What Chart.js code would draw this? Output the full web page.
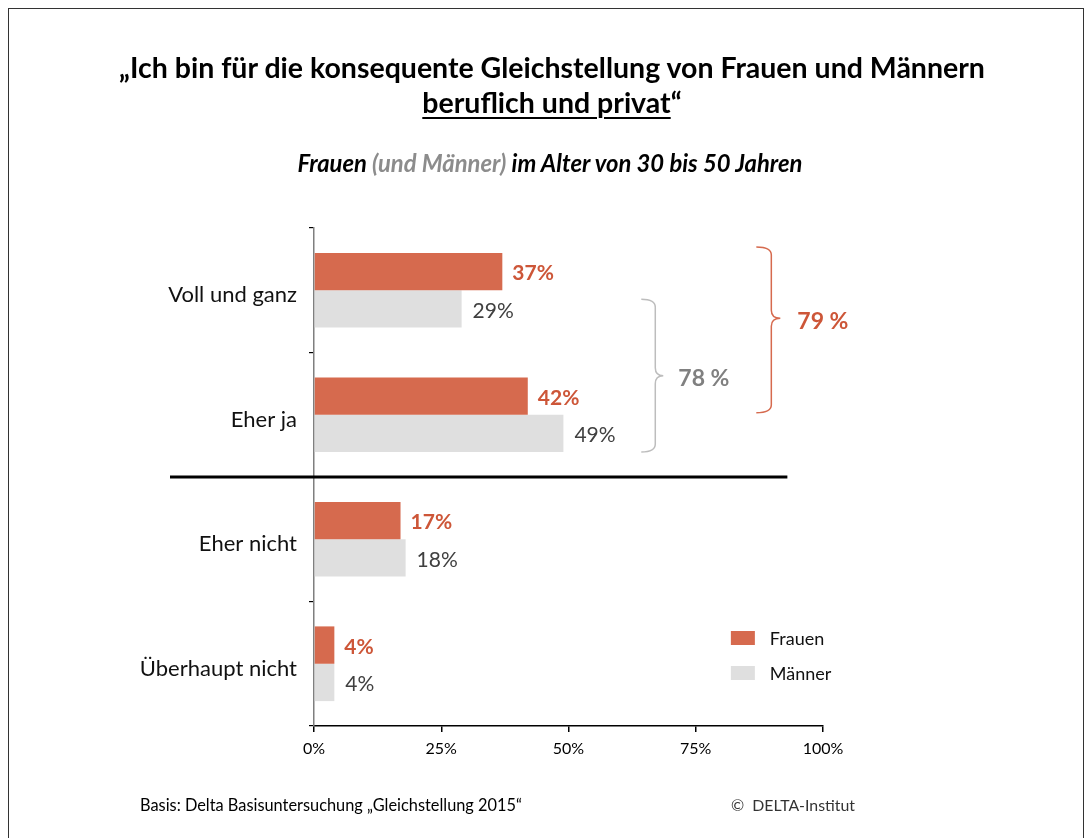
<!DOCTYPE html>
<html><head><meta charset="utf-8">
<script src="https://cdn.jsdelivr.net/npm/chart.js@4.4.1/dist/chart.umd.min.js"></script>
<style>
html,body{margin:0;padding:0;background:#fff;}
body{width:1086px;height:838px;position:relative;overflow:hidden;font-family:Lato,"Open Sans",sans-serif;}
#frame{position:absolute;left:8px;top:8px;width:1076px;height:850px;border:1px solid #333;box-sizing:border-box;}
.t{position:absolute;white-space:nowrap;color:#000;}
#c{position:absolute;left:0;top:0;}
</style></head><body>
<div id="frame"></div>
<canvas id="c" width="1086" height="838"></canvas>
<div class="t" id="t1" style="left:0;width:1104px;text-align:center;top:50px;font-size:26px;font-weight:bold;line-height:34px;">„Ich bin für die konsequente Gleichstellung von Frauen und Männern</div>
<div class="t" id="t2" style="left:0;width:1104px;text-align:center;top:85px;font-size:26px;font-weight:bold;line-height:34px;"><span style="text-decoration:underline;text-underline-offset:4px;text-decoration-thickness:2px;">beruflich und privat</span>“</div>
<div class="t" id="t3" style="left:0;width:1100px;text-align:center;top:151px;font-size:18px;font-weight:bold;font-style:italic;line-height:24px;">Frauen <span style="color:#8c8c8c">(und Männer)</span> im Alter von 30 bis 50 Jahren</div>
<div class="t" id="f1" style="left:140px;top:795px;font-size:16px;line-height:20px;">Basis: Delta Basisuntersuchung „Gleichstellung 2015“</div>
<div class="t" id="f2" style="left:731px;top:795px;font-size:16px;line-height:20px;color:#333;">©&nbsp;&nbsp;DELTA-Institut</div>
<script>
const categories = ["Voll und ganz", "Eher ja", "Eher nicht", "Überhaupt nicht"];
const frauen = [37, 42, 17, 4];
const maenner = [29, 49, 18, 4];
const seriesNames = ["Frauen", "Männer"];
const xTicks = [0, 25, 50, 75, 100];

const RED = "#D66A4E", RED_TXT = "#CD5638", GREY = "#DFDFDF", GREY_TXT = "#404040", BRACE_GREY = "#BDBDBD", SUM_GREY = "#808080";
const FONT = "Lato, 'Open Sans', sans-serif";

const overlay = {
  id: "overlay",
  afterDatasetsDraw(chart) {
    const ctx = chart.ctx, x = chart.scales.x, y = chart.scales.y;
    const mF = chart.getDatasetMeta(0), mM = chart.getDatasetMeta(1);
    ctx.save();
    ctx.textBaseline = "middle";
    mF.data.forEach((el, i) => {
      ctx.font = "bold 21px " + FONT; ctx.fillStyle = RED_TXT;
      ctx.fillText(frauen[i] + "%", el.x + 10, el.y + 2);
    });
    mM.data.forEach((el, i) => {
      ctx.font = "21px " + FONT; ctx.fillStyle = GREY_TXT;
      ctx.fillText(maenner[i] + "%", el.x + 11, el.y + 2);
    });
    // divider between agree / disagree
    const yDiv = (y.getPixelForValue(1) + y.getPixelForValue(2)) / 2;
    ctx.strokeStyle = "#000"; ctx.lineWidth = 3;
    ctx.beginPath(); ctx.moveTo(170, yDiv); ctx.lineTo(x.getPixelForValue(93), yDiv); ctx.stroke();
    // braces
    function brace(xL, xV, xT, top, bot, frac, color) {
      const mid = top + (bot - top) * frac, r = 8;
      ctx.strokeStyle = color; ctx.lineWidth = 1.5;
      ctx.beginPath();
      ctx.moveTo(xL, top); ctx.quadraticCurveTo(xV, top, xV, top + r);
      ctx.lineTo(xV, mid - r); ctx.quadraticCurveTo(xV, mid, xT, mid);
      ctx.moveTo(xT, mid); ctx.quadraticCurveTo(xV, mid, xV, mid + r);
      ctx.lineTo(xV, bot - r); ctx.quadraticCurveTo(xV, bot, xL, bot);
      ctx.stroke();
      return mid;
    }
    const gTop = mM.data[0].y - mM.data[0].height / 2 + 9, gBot = mM.data[1].y + mM.data[1].height / 2;
    const gx = x.getPixelForValue(64.3);
    const gMid = brace(gx, gx + 14, gx + 22, gTop, gBot, 0.5, BRACE_GREY);
    const rTop = mF.data[0].y - mF.data[0].height / 2 - 6, rBot = mF.data[1].y + mF.data[1].height / 2 - 2;
    const rx = x.getPixelForValue(86.9);
    const rMid = brace(rx, rx + 15, rx + 24, rTop, rBot, 0.43, RED);
    ctx.font = "bold 23px " + FONT; ctx.textBaseline = "middle";
    ctx.fillStyle = SUM_GREY;
    ctx.fillText((maenner[0] + maenner[1]) + " %", gx + 37, gMid + 3);
    ctx.fillStyle = RED_TXT;
    ctx.fillText((frauen[0] + frauen[1]) + " %", rx + 41, rMid + 3);
    // legend
    const lx = x.getPixelForValue(81.9);
    [[RED, seriesNames[0]], [GREY, seriesNames[1]]].forEach((it, k) => {
      const ly = 638 + k * 35;
      ctx.fillStyle = it[0]; ctx.fillRect(lx, ly - 7, 24, 14);
      ctx.fillStyle = "#111"; ctx.font = "18px " + FONT;
      ctx.fillText(it[1], lx + 39, ly + 1);
    });
    ctx.restore();
  }
};

new Chart(document.getElementById("c"), {
  type: "bar",
  data: {
    labels: categories,
    datasets: [
      { label: seriesNames[0], data: frauen, backgroundColor: RED, categoryPercentage: 0.6, barPercentage: 1.0 },
      { label: seriesNames[1], data: maenner, backgroundColor: GREY, categoryPercentage: 0.6, barPercentage: 1.0 }
    ]
  },
  options: {
    indexAxis: "y",
    responsive: false,
    animation: false,
    layout: { padding: { left: 0, top: 228, right: 263, bottom: 72 } },
    plugins: { legend: { display: false }, tooltip: { enabled: false } },
    scales: {
      x: {
        min: 0, max: 100,
        afterBuildTicks(s) { s.ticks = xTicks.map(v => ({ value: v })); },
        afterFit(s) { s.height = 40; },
        ticks: { callback: v => v + "%", font: { family: FONT, size: 16 }, color: "#000", padding: 7, maxRotation: 0 },
        grid: { drawOnChartArea: false, drawTicks: true, tickLength: 6, color: "#000", lineWidth: 1.5 },
        border: { color: "#000", width: 1.5 }
      },
      y: {
        afterFit(s) { s.width = 314; },
        ticks: { font: { family: FONT, size: 22 }, color: "#111", padding: 12, labelOffset: 5 },
        grid: { drawOnChartArea: false, drawTicks: true, tickLength: 5, color: "#000", lineWidth: 1.2, offset: true },
        border: { color: "#7f7f7f", width: 1.5 }
      }
    }
  },
  plugins: [overlay]
});

function fit(id, w) {
  const el = document.getElementById(id);
  const r = document.createRange(); r.selectNodeContents(el);
  const cur = r.getBoundingClientRect().width;
  const fs = parseFloat(getComputedStyle(el).fontSize);
  el.style.fontSize = (fs * w / cur).toFixed(2) + "px";
}
fit("t1", 866); fit("t3", 505); fit("f1", 382); fit("f2", 124);
document.getElementById("t2").style.fontSize = document.getElementById("t1").style.fontSize;
</script>
</body></html>
